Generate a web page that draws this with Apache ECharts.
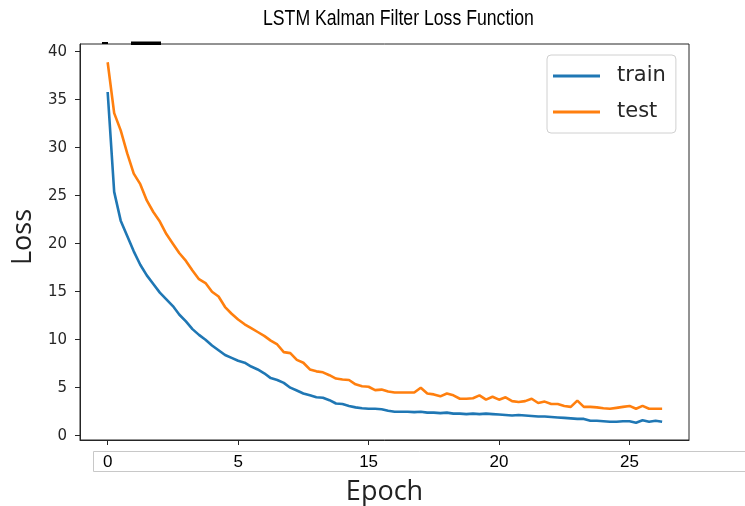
<!DOCTYPE html>
<html>
<head>
<meta charset="utf-8">
<script src="https://cdn.jsdelivr.net/npm/echarts@6/dist/echarts.min.js"></script>
<style>html,body{margin:0;padding:0;background:#fff}#c{width:745px;height:506px}</style>
</head>
<body>
<div id="c"></div>
<script>
const chartTitle = 'LSTM Kalman Filter Loss Function';
const epochStep = 0.25;
const trainLoss = [35.8,25.4,22.4,20.8,19.2,17.8,16.7,15.8,14.9,14.2,13.5,12.6,11.9,11.1,10.5,10.0,9.4,8.9,8.4,8.1,7.8,7.6,7.2,6.9,6.5,6.0,5.8,5.5,5.0,4.7,4.4,4.2,4.0,3.95,3.7,3.35,3.3,3.1,2.95,2.85,2.8,2.8,2.75,2.6,2.5,2.5,2.5,2.45,2.5,2.4,2.4,2.35,2.4,2.3,2.3,2.25,2.3,2.25,2.3,2.25,2.2,2.15,2.1,2.15,2.1,2.05,2.0,2.0,1.95,1.9,1.85,1.8,1.75,1.75,1.55,1.55,1.5,1.45,1.45,1.5,1.5,1.35,1.6,1.45,1.55,1.45];
const testLoss = [38.9,33.6,31.8,29.4,27.3,26.2,24.5,23.3,22.3,21.0,20.0,19.0,18.2,17.2,16.3,15.9,15.0,14.5,13.4,12.7,12.1,11.6,11.2,10.8,10.4,9.9,9.5,8.7,8.6,7.9,7.6,6.9,6.7,6.6,6.3,5.95,5.85,5.8,5.35,5.15,5.1,4.75,4.8,4.6,4.5,4.5,4.5,4.5,5.0,4.4,4.3,4.1,4.4,4.2,3.85,3.85,3.9,4.2,3.75,4.05,3.75,4.0,3.6,3.5,3.6,3.85,3.4,3.55,3.3,3.3,3.1,3.0,3.65,3.0,3.0,2.95,2.85,2.8,2.9,3.0,3.1,2.8,3.1,2.8,2.8,2.8];
const xTickValues = [0,5,10,15,20];
const xTickLabels = ['0','5','15','20','25'];
const yTickValues = [0,5,10,15,20,25,30,35,40];

const toPairs = arr => arr.map((v,i)=>[i*epochStep, v]);
const chart = echarts.init(document.getElementById('c'));
const axisColor = '#262626';
chart.setOption({
  animation:false,
  backgroundColor:'#fff',
  grid:{left:80, top:44, width:609, height:396, show:true, borderColor:axisColor, borderWidth:1,
    backgroundColor:'transparent', outerBoundsMode:'none', containLabel:false},
  legend:{orient:'vertical', left:547, top:55, padding:[8,10,8,6], itemGap:10,
    backgroundColor:'#fff', borderColor:'#d0d0d0', borderWidth:1, borderRadius:4,
    itemWidth:47, itemHeight:3, icon:'rect',
    textStyle:{fontFamily:'DejaVu Sans', fontSize:21, color:'#262626', lineHeight:26, padding:[0,0,0,12]},
    data:['train','test']},
  xAxis:{type:'value', min:-1.06, max:22.28,
    name:'Epoch', nameLocation:'middle', nameGap:39,
    nameTextStyle:{fontFamily:'Open Sans', fontSize:27, color:'#222'},
    axisLine:{show:true, onZero:false, lineStyle:{color:axisColor, width:1}},
    axisTick:{show:true, length:5, customValues:xTickValues, lineStyle:{color:axisColor}},
    axisLabel:{customValues:xTickValues, margin:14, fontFamily:'Liberation Sans', fontSize:17, color:'#000',
      formatter:v=>{const k=xTickValues.indexOf(v); return k>=0?xTickLabels[k]:'';}},
    splitLine:{show:false}},
  yAxis:{type:'value', min:-0.45, max:40.8,
    name:'Loss', nameLocation:'middle', nameGap:42, nameRotate:90,
    nameTextStyle:{fontFamily:'Open Sans', fontSize:27, color:'#222', padding:[0,0,0,10]},
    axisLine:{show:true, onZero:false, lineStyle:{color:axisColor, width:1}},
    axisTick:{show:true, length:5, customValues:yTickValues, lineStyle:{color:axisColor}},
    axisLabel:{customValues:yTickValues, margin:13, fontFamily:'DejaVu Sans', fontSize:15, color:'#262626'},
    splitLine:{show:false}},
  graphic:[
    {type:'text', x:263, y:7, scaleX:0.785, style:{text:chartTitle, fontFamily:'Liberation Sans', fontSize:22.5, fill:'#000'}},
    {type:'rect', shape:{x:93.5, y:451.5, width:700, height:20}, style:{fill:'none', stroke:'#c8c8c8', lineWidth:1}, z:-1},
    {type:'rect', shape:{x:102, y:42, width:6, height:2}, style:{fill:'#000'}},
    {type:'rect', shape:{x:131, y:41.5, width:30, height:3.5}, style:{fill:'#000'}}
  ],
  series:[
    {name:'train', type:'line', data:toPairs(trainLoss), showSymbol:false, symbol:'none',
      lineStyle:{color:'#1f77b4', width:2.6}, itemStyle:{color:'#1f77b4'}},
    {name:'test', type:'line', data:toPairs(testLoss), showSymbol:false, symbol:'none',
      lineStyle:{color:'#ff7f0e', width:2.6}, itemStyle:{color:'#ff7f0e'}}
  ]
});
</script>
</body>
</html>
